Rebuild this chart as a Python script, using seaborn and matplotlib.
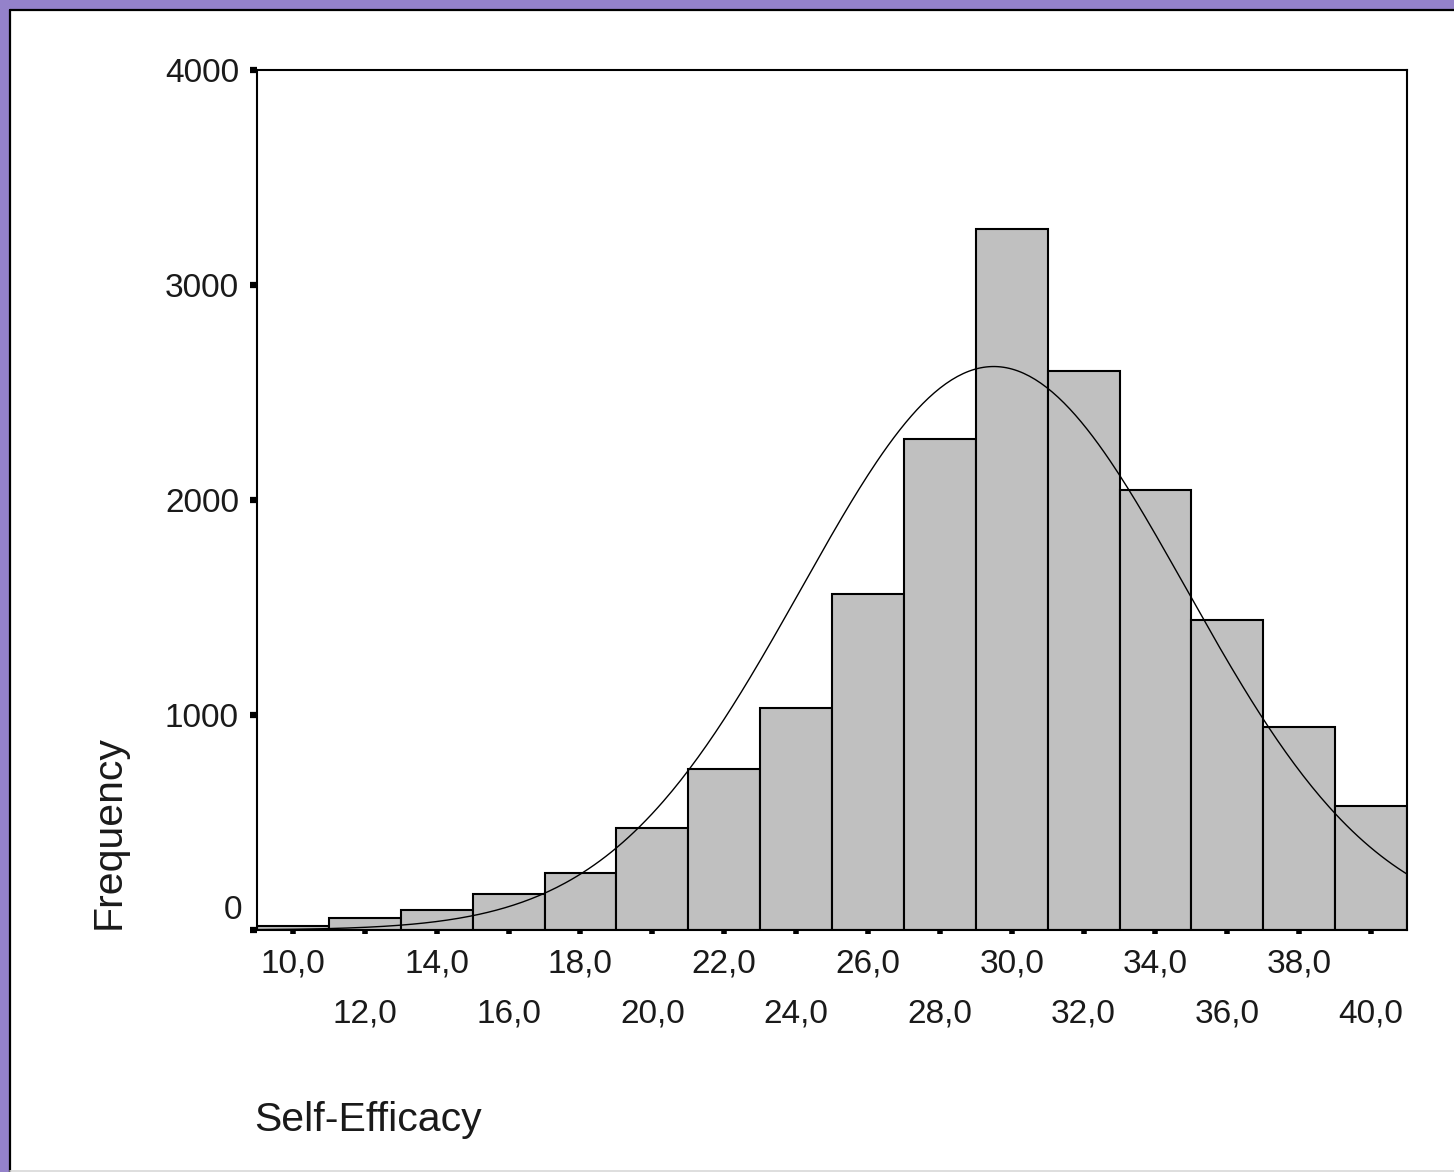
import numpy as np
import pandas as pd
import matplotlib
matplotlib.use("Agg")
import matplotlib.pyplot as plt
from matplotlib.patches import Rectangle
from matplotlib.lines import Line2D
import seaborn as sns

# ---------------- data ----------------
bin_centers = [10, 12, 14, 16, 18, 20, 22, 24, 26, 28, 30, 32, 34, 36, 38, 40]
counts = [20, 55, 93, 167, 265, 474, 749, 1033, 1563, 2284, 3260, 2600, 2047, 1442, 944, 577]
bin_width = 2.0
x_tick_labels = ["10,0", "12,0", "14,0", "16,0", "18,0", "20,0", "22,0", "24,0",
                 "26,0", "28,0", "30,0", "32,0", "34,0", "36,0", "38,0", "40,0"]
y_tick_values = [0, 1000, 2000, 3000, 4000]
y_tick_labels = ["0", "1000", "2000", "3000", "4000"]
fit_mean = 29.5      # normal curve parameters
fit_sd = 5.35
x_label = "Self-Efficacy"
y_label = "Frequency"

# ---------------- style ----------------
sns.set_style("white")
plt.rcParams['font.family'] = ['Liberation Sans', 'DejaVu Sans']
TXT = "#1a1a1a"

W, H = 1454, 1172
fig = plt.figure(figsize=(W / 100, H / 100), dpi=100)
fig.patch.set_facecolor("#9482CA")

# white inner panel with black top/left border (drawn beneath the axes)
fig.patches.append(Rectangle((10 / W, 0), 1 - 10 / W, 1 - 10 / H, transform=fig.transFigure,
                             facecolor="white", edgecolor="none", zorder=-5))
fig.lines.append(Line2D([9.5 / W, 9.5 / W], [0, 1 - 9.5 / H], transform=fig.transFigure,
                        color="black", lw=1.6, zorder=-4))
fig.lines.append(Line2D([9.5 / W, 1], [1 - 9.5 / H, 1 - 9.5 / H], transform=fig.transFigure,
                        color="black", lw=1.6, zorder=-4))
fig.lines.append(Line2D([10 / W, 1], [1.5 / H, 1.5 / H], transform=fig.transFigure,
                        color="#d8d8d8", lw=1.2, zorder=-4))

ax = fig.add_axes([257 / W, 1 - 930 / H, 1150 / W, 860 / H])
ax.set_zorder(1)
ax.set_facecolor("white")

centers = np.array(bin_centers, dtype=float)
edges = [float(c - bin_width / 2) for c in bin_centers] + [float(bin_centers[-1] + bin_width / 2)]
df = pd.DataFrame({"value": centers, "count": np.array(counts, dtype=float)})

sns.histplot(data=df, x="value", weights="count", bins=edges, ax=ax,
             color="#C0C0C0", edgecolor="black", linewidth=1.5, alpha=1.0)

# fitted normal curve
n_total = float(np.sum(counts))
grid = np.linspace(edges[0], edges[-1], 400)
curve = n_total * bin_width * np.exp(-0.5 * ((grid - fit_mean) / fit_sd) ** 2) / (fit_sd * np.sqrt(2 * np.pi))
sns.lineplot(x=grid, y=curve, ax=ax, color="black", linewidth=1.0)

ax.set_xlim(edges[0], edges[-1])
ax.set_ylim(y_tick_values[0], y_tick_values[-1])

# staggered x tick labels
ax.set_xticks(bin_centers[::2])
ax.set_xticklabels(x_tick_labels[::2])
ax.set_xticks(bin_centers[1::2], minor=True)
ax.set_xticklabels(x_tick_labels[1::2], minor=True)
ax.tick_params(axis="x", which="major", direction="out", length=3, width=4,
               pad=10, labelsize=24, colors="black", labelcolor=TXT, bottom=True)
ax.tick_params(axis="x", which="minor", direction="out", length=3, width=4,
               pad=46, labelsize=24, colors="black", labelcolor=TXT, bottom=True)

ax.set_yticks(y_tick_values)
ax.set_yticklabels([""] + y_tick_labels[1:])
ax.tick_params(axis="y", which="major", direction="out", length=5, width=4.5,
               pad=8, labelsize=24, colors="black", labelcolor=TXT, left=True)
ax.text(-0.0125, 93, y_tick_labels[0], transform=ax.get_yaxis_transform(),
        ha="right", va="center", fontsize=24, color=TXT)

for s in ax.spines.values():
    s.set_visible(True)
    s.set_color("black")
    s.set_linewidth(1.5)

ax.set_xlabel(x_label, fontsize=29.5, color=TXT, ha="left", va="center")
ax.xaxis.set_label_coords(-0.002, -0.221)
ax.set_ylabel(y_label, fontsize=29.5, color=TXT, ha="center", va="center")
ax.yaxis.set_label_coords(-0.129, 0.114)

fig.savefig("out.png", dpi=100, facecolor=fig.get_facecolor())
